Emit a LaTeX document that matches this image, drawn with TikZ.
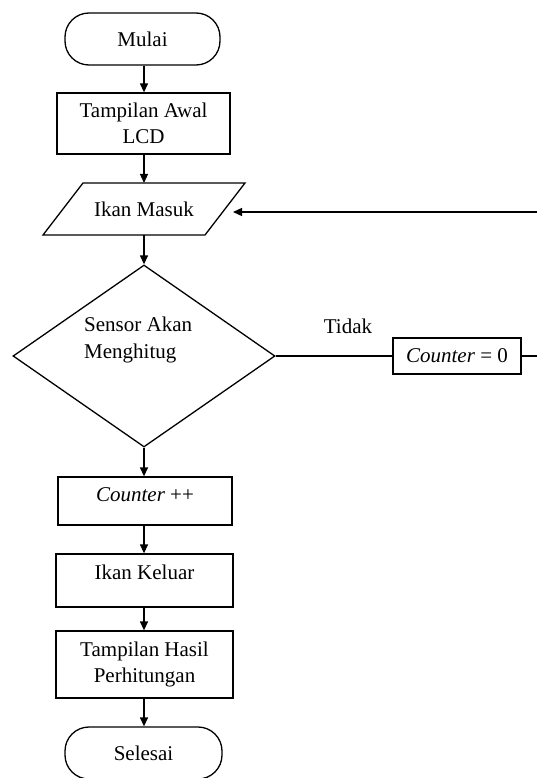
\documentclass[tikz,border=0pt]{standalone}
\usepackage{fontspec}
\setmainfont{Liberation Serif}
\usetikzlibrary{arrows.meta,shapes.geometric}
\begin{document}
\begin{tikzpicture}[x=1pt,y=-1pt,
  every node/.style={font=\fontsize{21}{26.5}\selectfont, inner sep=0pt},
  box/.style={draw, line width=1.3pt, align=center},
  term/.style={draw, line width=1.3pt, rounded corners=24pt},
  arr/.style={line width=1.3pt, -{Triangle[length=9pt,width=8pt]}},
  ln/.style={line width=1.3pt}]
\useasboundingbox (0,0) rectangle (537,778);
\fill[white] (0,0) rectangle (537,778);

\node[term, minimum width=155pt, minimum height=52pt] (mulai) at (142.5,39) {Mulai};
\node[box, minimum width=173pt, minimum height=61pt] (lcd) at (143.5,123.5) {Tampilan Awal\\LCD};
\node[minimum width=178pt, minimum height=52pt] (masuk) at (144,209) {Ikan Masuk};
\draw[ln] (83,183) -- (245,183) -- (205,235) -- (43,235) -- cycle;
\node[diamond, draw, line width=1.3pt, minimum width=262pt, minimum height=182pt, aspect=1.44] (dec) at (144,356) {};
\node[align=left, anchor=north west] (dectext) at (84,317) {Sensor Akan\\Menghitug};
\node (tidak) at (348,326) {Tidak};
\node[box, minimum width=128pt, minimum height=36pt] (c0) at (457,356) {\textit{Counter} = 0};
\node[box, minimum width=174pt, minimum height=48pt, text depth=12pt] (cpp) at (145,501) {\textit{Counter} ++};
\node[box, minimum width=177pt, minimum height=53pt, text depth=16pt] (keluar) at (144.5,580.5) {Ikan Keluar};
\node[box, minimum width=177pt, minimum height=67pt] (hasil) at (144.5,664.5) {Tampilan Hasil\\Perhitungan};
\node[term, minimum width=157pt, minimum height=52pt] (selesai) at (143.5,753) {Selesai};

\coordinate (r1) at (537,356);
\coordinate (r2) at (537,212);
\coordinate (min) at (233,212);

\draw[arr] (mulai.south -| 144,0) -- (lcd.north -| 144,0);
\draw[arr] (lcd.south -| 144,0) -- (144,183);
\draw[arr] (144,235) -- (dec.north);
\draw[arr] (dec.south) -- (cpp.north -| dec.south);
\draw[arr] (cpp.south -| 144,0) -- (keluar.north -| 144,0);
\draw[arr] (keluar.south -| 144,0) -- (hasil.north -| 144,0);
\draw[arr] (hasil.south -| 144,0) -- (selesai.north -| 144,0);
\draw[ln] (dec.east) -- (c0.west);
\draw[ln] (c0.east) -- (r1);
\draw[arr] (r2) -- (min);
\end{tikzpicture}
\end{document}
